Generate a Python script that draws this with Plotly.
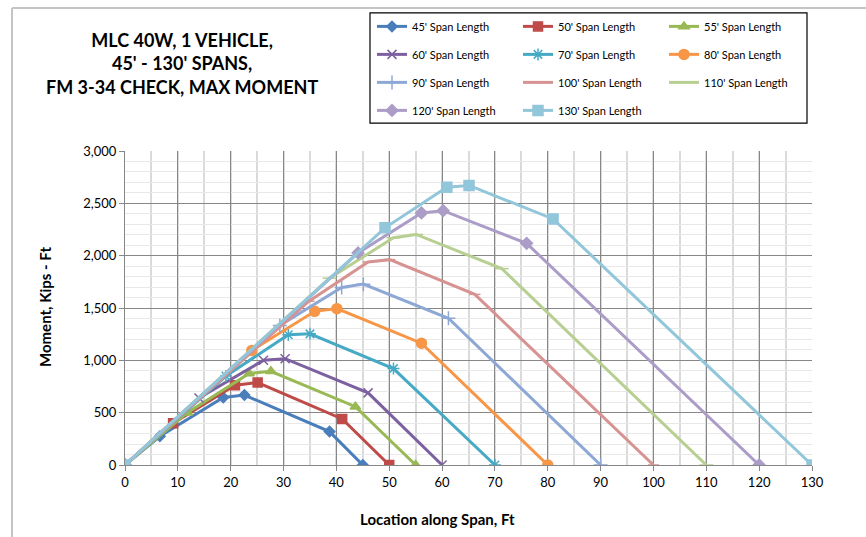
import plotly.graph_objects as go

# ---------------- data ----------------
spans = ["45", "50", "55", "60", "70", "80", "90", "100", "110", "120", "130"]

x45 = [0, 6.6, 18.6, 22.6, 38.7, 45]
y45 = [0, 275, 646, 668, 319, 0]
x50 = [0, 9.1, 20.8, 25.1, 41.1, 50]
y50 = [0, 399, 763, 788, 440, 0]
x55 = [0, 11.8, 23.5, 27.6, 43.6, 55]
y55 = [0, 500, 874, 895, 557, 0]
x60 = [0, 14.0, 26.2, 30.3, 46.0, 60]
y60 = [0, 640, 1000, 1016, 689, 0]
x70 = [0, 19.1, 30.9, 35.0, 50.8, 70]
y70 = [0, 850, 1244, 1253, 921, 0]
x80 = [0, 24.0, 35.9, 40.1, 56.1, 80]
y80 = [0, 1095, 1468, 1494, 1164, 0]
x90 = [0, 29.3, 41.0, 45.1, 61.2, 90]
y90 = [0, 1333, 1696, 1728, 1402, 0]
x100 = [0, 34.8, 46.0, 50.1, 66.2, 100]
y100 = [0, 1565, 1940, 1962, 1630, 0]
x110 = [0, 38.7, 50.8, 55.1, 71.3, 110]
y110 = [0, 1785, 2171, 2203, 1876, 0]
x120 = [0, 44.1, 56.1, 60.2, 76.0, 120]
y120 = [0, 2026, 2408, 2430, 2118, 0]
x130 = [0, 49.2, 60.9, 65.1, 81.0, 130]
y130 = [0, 2266, 2653, 2671, 2351, 0]

xs = [x45, x50, x55, x60, x70, x80, x90, x100, x110, x120, x130]
ys = [y45, y50, y55, y60, y70, y80, y90, y100, y110, y120, y130]

x_ticks = [0, 10, 20, 30, 40, 50, 60, 70, 80, 90, 100, 110, 120, 130]
y_ticks = [0, 500, 1000, 1500, 2000, 2500, 3000]

# ---------------- styles ----------------
colors = ["#4A7EBB", "#BE4B48", "#98B954", "#7D60A0", "#46AAC5", "#F79646",
          "#8EA8D6", "#D69391", "#B8CF92", "#AB9DC7", "#92C6DA"]
symbols = ["diamond", "square", "triangle-up", "x-thin-open", "asterisk-open",
           "circle", "cross-thin-open", "line-ew-open", "line-ew-open",
           "diamond", "square"]
msizes = [8, 9, 9, 9, 10, 10, 10, 8, 10, 9, 10]
legend_ids = ["legend", "legend2", "legend3"] * 4

W, H = 866, 537
L, R, T, B = 125, 812, 149, 465


def px2x(px):
    return (px - L) / (R - L)


def py2y(py):
    return (B - py) / (B - T)


fig = go.Figure()
for i, s in enumerate(spans):
    fig.add_trace(go.Scatter(
        x=xs[i], y=ys[i], mode="lines+markers",
        name=f"{s}' Span Length",
        line=dict(color=colors[i], width=3),
        marker=dict(symbol=symbols[i], size=msizes[i], color=colors[i],
                    line=dict(color=colors[i], width=1.5)),
        legend=legend_ids[i], legendgroup=s,
    ))

font_family = "Lato, Open Sans, sans-serif"
leg_common = dict(
    orientation="v", xanchor="left", yanchor="top",
    bgcolor="rgba(0,0,0,0)", borderwidth=0,
    font=dict(family=font_family, size=11, color="#000000"),
    tracegroupgap=9, itemwidth=30,
)
fig.update_layout(
    legend=dict(x=px2x(372), y=py2y(9), **leg_common),
    legend2=dict(x=px2x(518), y=py2y(9), **leg_common),
    legend3=dict(x=px2x(664), y=py2y(9), **leg_common),
)

fig.update_layout(
    width=W, height=H,
    margin=dict(l=L, r=W - R, t=T, b=H - B),
    paper_bgcolor="white", plot_bgcolor="white",
    font=dict(family=font_family, size=12, color="#000000"),
    showlegend=True,
    xaxis=dict(
        range=[0, 130], tickvals=x_ticks, ticktext=[str(v) for v in x_ticks],
        showgrid=True, gridcolor="#878787", gridwidth=1,
        minor=dict(dtick=5, showgrid=True, gridcolor="#DADADA", gridwidth=1.5),
        zeroline=False, showline=True, linecolor="#878787", linewidth=1,
        ticks="outside", ticklen=5, tickcolor="#878787",
        tickfont=dict(size=13), fixedrange=True,
    ),
    yaxis=dict(
        range=[0, 3000], tickvals=y_ticks, tickformat=",d",
        showgrid=True, gridcolor="#878787", gridwidth=1,
        minor=dict(dtick=100, showgrid=True, gridcolor="#E8E8E8", gridwidth=1),
        zeroline=False, showline=True, linecolor="#878787", linewidth=1,
        ticks="outside", ticklen=5, tickcolor="#878787",
        tickfont=dict(size=13), fixedrange=True,
    ),
)

# title and axis titles
fig.add_annotation(
    text="MLC 40W, 1 VEHICLE,<br>45' - 130' SPANS,<br>FM 3-34 CHECK, MAX MOMENT",
    xref="paper", yref="paper", x=px2x(182), y=py2y(61),
    xanchor="center", yanchor="middle", showarrow=False, align="center",
    font=dict(family=font_family, size=18, color="#000000", weight="bold"),
)
fig.add_annotation(
    text="Moment, Kips - Ft", xref="paper", yref="paper",
    x=px2x(45), y=py2y(306), textangle=-90, showarrow=False,
    xanchor="center", yanchor="middle",
    font=dict(family=font_family, size=15, color="#000000", weight="bold"),
)
fig.add_annotation(
    text="Location along Span, Ft", xref="paper", yref="paper",
    x=px2x(437), y=py2y(519), showarrow=False,
    xanchor="center", yanchor="middle",
    font=dict(family=font_family, size=15, color="#000000", weight="bold"),
)

# legend box and outer chart border
fig.add_shape(type="rect", xref="paper", yref="paper",
              x0=px2x(370), x1=px2x(807), y0=py2y(121), y1=py2y(10),
              line=dict(color="#000000", width=1.2), fillcolor="rgba(0,0,0,0)")
fig.add_shape(type="line", xref="paper", yref="paper",
              x0=px2x(12), x1=px2x(12), y0=py2y(5), y1=py2y(540),
              line=dict(color="#C4C4C4", width=2))
fig.add_shape(type="line", xref="paper", yref="paper",
              x0=px2x(12), x1=px2x(870), y0=py2y(5), y1=py2y(5),
              line=dict(color="#C4C4C4", width=2))

fig.write_html("out.html",
               config={"displayModeBar": False},
               post_script="document.body.style.margin='0px';")
